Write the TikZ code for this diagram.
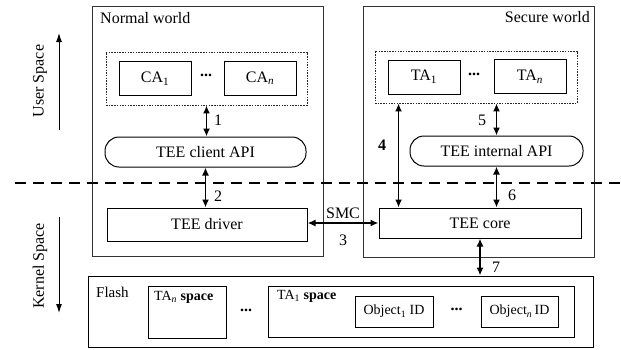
\documentclass[tikz,border=0pt]{standalone}
\usepackage{fontspec}
\setmainfont{Liberation Serif}
\usetikzlibrary{arrows.meta,calc}

\tikzset{
  world/.style={draw=black!80, line width=0.9pt, minimum width=231pt, minimum height=250pt, inner sep=0pt},
  group/.style={draw=black!85, dash pattern=on 1.5pt off 1.2pt, line width=0.9pt, inner sep=0pt},
  app/.style={draw, line width=1pt, minimum width=72pt, minimum height=34pt, inner sep=0pt},
  api/.style={draw, line width=1pt, rounded corners=14pt, minimum height=30pt, inner sep=0pt},
  layer/.style={draw, line width=1pt, inner sep=0pt},
  store/.style={draw, line width=1pt, inner sep=0pt},
  lbl/.style={inner sep=0pt},
  dbl/.style={line width=1.6pt, {Latex[length=8pt,width=7pt]}-{Latex[length=8pt,width=7pt]}},
  axis/.style={line width=1pt, -{Latex[length=9pt,width=6pt]}},
  sep/.style={line width=1.8pt, dash pattern=on 11pt off 7pt},
}

\begin{document}
\begin{tikzpicture}[x=1pt,y=-1pt,font=\fontsize{16}{19}\selectfont]
\useasboundingbox (0,0) rectangle (621,349);

% the two worlds
\node[world] (nw) at (207.5,131) {};
\node[world, minimum height=251pt] (sw) at (478.5,131.5) {};
\node[lbl, anchor=west] (nwl) at (100,18) {Normal world};
\node[lbl, anchor=east] (swl) at (590,17) {Secure world};

% client applications
\node[group, minimum width=201pt, minimum height=53pt] (dotN) at (206.5,78.5) {};
\node[app] (ca1) at (155,78.5) {CA\textsubscript{1}};
\node[app] (can) at (260,78) {CA\textsubscript{\textit{n}}};
\node[lbl] (cad) at (206,75) {\textbf{...}};

% trusted applications
\node[group, minimum width=202pt, minimum height=52pt] (dotS) at (476,77) {};
\node[app] (ta1) at (424,77) {TA\textsubscript{1}};
\node[app] (tan) at (530,76.5) {TA\textsubscript{\textit{n}}};
\node[lbl] (tad) at (474,74) {\textbf{...}};

% API layers
\node[api, minimum width=201pt] (capi) at (205.5,152) {TEE client API};
\node[api, minimum width=173pt] (iapi) at (496.5,151) {TEE internal API};

% kernel side
\node[layer, minimum width=200pt, minimum height=33pt] (drv) at (207,224.5) {TEE driver};
\node[layer, minimum width=202pt, minimum height=30pt] (core) at (480,223) {TEE core};

% flash storage
\node[store, minimum width=505pt, minimum height=71pt] (flash) at (340.5,311.5) {};
\node[lbl, anchor=west, font=\fontsize{15}{18}\selectfont] (flashl) at (96,292) {Flash};
\node[store, minimum width=78pt, minimum height=52pt] (tans) at (187,312) {};
\node[lbl, anchor=west, font=\fontsize{14}{17}\selectfont] (tansl) at (154,297.5) {TA\textsubscript{\textit{n}} \textbf{space}};
\node[lbl] (fd) at (246,310) {\textbf{...}};
\node[store, minimum width=306pt, minimum height=51pt] (ta1s) at (421,311.5) {};
\node[lbl, anchor=west, font=\fontsize{14}{17}\selectfont] (ta1sl) at (277,296) {TA\textsubscript{1} \textbf{space}};
\node[store, minimum width=78pt, minimum height=31pt, font=\fontsize{14}{17}\selectfont] (ob1) at (394,311.5) {Object\textsubscript{1} ID};
\node[store, minimum width=77pt, minimum height=31pt, font=\fontsize{14}{17}\selectfont] (obn) at (519.5,311.5) {Object\textsubscript{\textit{n}}\,ID};
\node[lbl] (od) at (456.5,309) {\textbf{...}};

% connectors
\draw[dbl] (dotN.south) -- (dotN.south |- capi.north);
\node[lbl] (n1) at (218,120) {1};
\draw[dbl] (capi.south) -- (capi.south |- drv.north);
\node[lbl] (n2) at (218,196) {2};
\draw[dbl] (drv.east |- core.west) -- (core.west);
\node[lbl] (smc) at (343,213) {SMC};
\node[lbl] (n3) at (343,240) {3};
\coordinate (a4) at ($(dotS.south west)+(24,0)$);
\draw[dbl] (a4) -- (a4 |- core.north);
\node[lbl] (n4) at (382,145) {\textbf{4}};
\draw[dbl] (iapi.north |- dotS.south) -- (iapi.north);
\node[lbl] (n5) at (482,120) {5};
\draw[dbl] (iapi.south) -- (iapi.south |- core.north);
\node[lbl] (n6) at (512,195) {6};
\draw[dbl] (core.south) -- (core.south |- flash.north);
\node[lbl] (n7) at (496,267) {7};

% user / kernel divide
\coordinate (sepL) at (15,183);
\coordinate (sepR) at (621,183);
\draw[sep] (sepL) -- (sepR);

\node[lbl, rotate=90] (us) at (40,81) {User Space};
\coordinate (usA) at (59,130);
\coordinate (usB) at (59,33);
\draw[axis] (usA) -- (usB);
\node[lbl, rotate=90] (ks) at (40,266) {Kernel Space};
\coordinate (ksA) at (59,217);
\coordinate (ksB) at (59,313);
\draw[axis] (ksA) -- (ksB);
\end{tikzpicture}
\end{document}
